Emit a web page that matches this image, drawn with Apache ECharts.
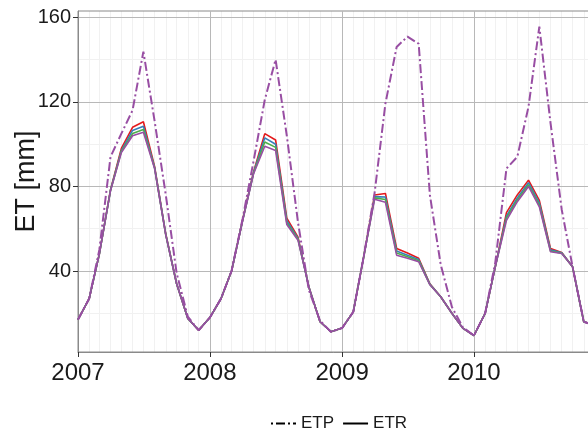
<!DOCTYPE html>
<html>
<head>
<meta charset="utf-8">
<script src="https://cdn.jsdelivr.net/npm/echarts@6/dist/echarts.min.js"></script>
<style>
  html, body { margin: 0; padding: 0; background: #fff; }
  #vis { width: 588px; height: 435px; }
</style>
</head>
<body>
<div id="vis"></div>
<script>
// monthly values, Jan 2007 .. Dec 2010
const startYear = 2007;
const nMonths = 48;

const etp = [
  17, 27, 50, 94, 105, 116, 143.8, 111, 76, 39, 18.4, 12,
  18, 27, 40, 65, 92, 121, 140, 104, 63, 31, 16.5, 11.3,
  13, 20.7, 46, 77, 119.3, 146, 150.9, 147.5, 76, 43, 23, 13.5,
  9.5, 20, 44, 88.5, 94, 117.7, 155.6, 110, 69, 42, 16, 14.4
];
// ETR, four runs (top to bottom at the peaks)
const etrRed = [
  17, 27, 48, 78.5, 98, 108, 110.6, 89.5, 57.5, 34, 17.6, 12,
  18, 27, 40, 64.5, 87, 105, 102, 65, 56, 32.5, 16, 11.3,
  13, 20.7, 46, 76, 76.7, 50.7, 48.5, 46, 34, 27.8, 20, 13,
  9.5, 20, 42, 67.6, 76, 83, 73.4, 50.6, 48.8, 42, 16, 14.4
];
const etrBlue = [
  17, 27, 48, 78.3, 97, 106.5, 108.5, 89, 57.3, 34, 17.6, 12,
  18, 27, 40, 64.3, 86.6, 103, 100, 63.8, 55.4, 32.5, 16, 11.3,
  13, 20.7, 46, 75.2, 75, 49.5, 47.5, 45.4, 33.8, 27.8, 20, 13,
  9.5, 20, 42, 66, 74.6, 81.8, 72.2, 50, 48.6, 42, 16, 14.4
];
const etrGreen = [
  17, 27, 48, 78.1, 96.5, 105, 107, 88.7, 57.1, 34, 17.6, 12,
  18, 27, 40, 64.1, 86.3, 101, 98.5, 62.8, 55, 32.5, 16, 11.3,
  13, 20.7, 46, 74.6, 73.8, 48.5, 46.8, 44.9, 33.6, 27.8, 20, 13,
  9.5, 20, 42, 65, 73.6, 80.8, 71.2, 49.5, 48.4, 42, 16, 14.4
];
const etrPurple = [
  17, 27, 48, 78, 96, 104, 105.6, 88.5, 57, 34, 17.6, 12,
  18, 27, 40, 64, 86, 99, 97, 62, 54.6, 32.5, 16, 11.3,
  13, 20.7, 46, 74, 72.5, 47.5, 46, 44.4, 33.5, 27.8, 20, 13,
  9.5, 20, 42, 64, 72.8, 80, 70.4, 49.1, 48.3, 42, 16, 14.4
];

const yMajor = [40, 80, 120, 160];
const yMinor = [20, 60, 100, 140];
const yearTicks = [2007, 2008, 2009, 2010];

const dates = [];
for (let i = 0; i < nMonths; i++) dates.push(new Date(startYear, i, 1).getTime());
const yearTs = yearTicks.map(y => new Date(y, 0, 1).getTime());
const xMax = new Date(2010, 10, 21).getTime();

const pair = (vals) => vals.map((v, i) => [dates[i], v]);

const font = 'Liberation Sans, Arial, sans-serif';
const dotdash = [9, 3, 2, 3];
// legend keys drawn as thin filled bars
const iconDotDash = 'path://M0,0h2v2h-2z M5,0h9v2h-9z M17,0h2v2h-2z M22,0h3v2h-3z';
const iconSolid = 'path://M0,0h25v2h-25z';

const etrLine = (color, vals) => ({
  name: 'ETR', type: 'line', data: pair(vals), showSymbol: false, symbol: 'none',
  lineStyle: { color: color, width: 1.6 }, itemStyle: { color: color },
  silent: true, animation: false
});

const chart = echarts.init(document.getElementById('vis'), null, { renderer: 'canvas' });

const options = {
  animation: false,
  backgroundColor: '#fff',
  grid: {
    left: 78, top: 11, right: -3, bottom: 83, outerBoundsMode: 'none',
    show: true, borderColor: '#8a8a8a', borderWidth: 1
  },
  legend: {
    left: 266, top: 410,
    itemWidth: 25, itemHeight: 2, itemGap: 9,
    textStyle: { fontFamily: font, fontSize: 17, color: '#1a1a1a' },
    data: [
      { name: 'ETP', icon: iconDotDash, itemStyle: { color: '#000' } },
      { name: 'ETR', icon: iconSolid, itemStyle: { color: '#000' } }
    ]
  },
  xAxis: [
    {
      type: 'value', min: dates[0], max: xMax,
      axisLine: { show: true, lineStyle: { color: '#8a8a8a', width: 1 } },
      axisTick: { show: true, length: 5, customValues: yearTs, lineStyle: { color: '#333' } },
      axisLabel: {
        customValues: yearTs, margin: 9, fontFamily: font, fontSize: 24, color: '#1a1a1a',
        formatter: (v) => String(new Date(v).getFullYear())
      },
      splitLine: { show: true, lineStyle: { color: '#b8b8b8', width: 1 } }
    },
    {
      type: 'value', min: dates[0], max: xMax, position: 'bottom',
      axisLine: { show: false },
      axisTick: { show: false, customValues: dates },
      axisLabel: { show: false, customValues: dates },
      splitLine: { show: true, lineStyle: { color: '#f1f1f1', width: 1 } },
      z: -1
    }
  ],
  yAxis: [
    {
      type: 'value', min: 1.7, max: 163,
      name: 'ET [mm]', nameLocation: 'middle', nameGap: 38, nameRotate: 90, nameMoveOverlap: false,
      nameTextStyle: { fontFamily: font, fontSize: 27, color: '#1a1a1a' },
      axisLine: { show: true, lineStyle: { color: '#8a8a8a', width: 1 } },
      axisTick: { show: true, length: 5, customValues: yMajor, lineStyle: { color: '#333' } },
      axisLabel: { customValues: yMajor, margin: 7, fontFamily: font, fontSize: 20, color: '#1a1a1a' },
      splitLine: { show: true, lineStyle: { color: '#b8b8b8', width: 1 } }
    },
    {
      type: 'value', min: 1.7, max: 163, position: 'left',
      axisLine: { show: false },
      axisTick: { show: false, customValues: yMinor },
      axisLabel: { show: false, customValues: yMinor },
      splitLine: { show: true, lineStyle: { color: '#f1f1f1', width: 1 } },
      z: -1
    }
  ],
  series: [
    etrLine('#E41A1C', etrRed),
    etrLine('#377EB8', etrBlue),
    etrLine('#4DAF4A', etrGreen),
    etrLine('#984EA3', etrPurple),
    {
      name: 'ETP', type: 'line', data: pair(etp), showSymbol: false, symbol: 'none',
      lineStyle: { color: '#984EA3', width: 2, type: dotdash }, itemStyle: { color: '#984EA3' },
      silent: true, animation: false
    }
  ]
};

chart.setOption(options);
window.addEventListener('resize', () => chart.resize());
</script>
</body>
</html>
